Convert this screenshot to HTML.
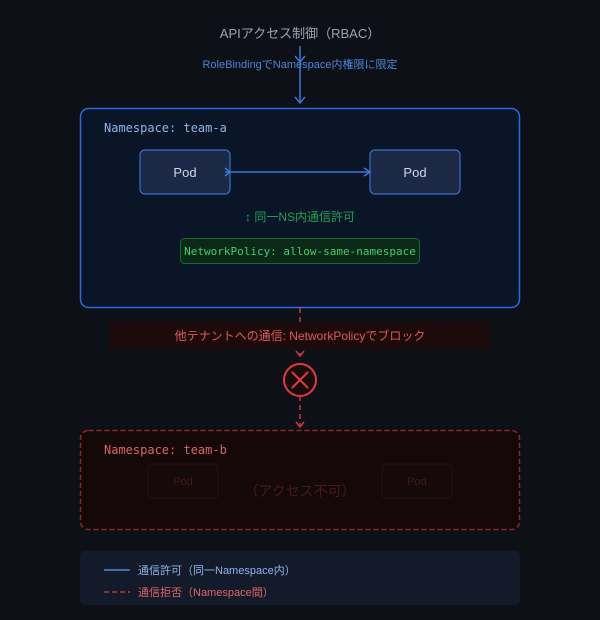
<!DOCTYPE html>
<html><head><meta charset="utf-8"><style>
html,body{margin:0;padding:0;background:#0d1017;}
svg{display:block}
.s{font-family:"Liberation Sans","Noto Sans CJK JP",sans-serif}
.m{font-family:"DejaVu Sans Mono","Liberation Mono",monospace}
</style></head><body>
<svg width="600" height="620" viewBox="0 0 600 620" xmlns="http://www.w3.org/2000/svg">
<rect width="600" height="620" fill="#0d1017"/>
<text x="300" y="38" text-anchor="middle" class="s" font-size="13" fill="#9aa3b0">APIアクセス制御（RBAC）</text>
<line x1="300" y1="46" x2="300" y2="103" stroke="#3a78d8" stroke-width="1.5"/>
<polyline points="295,97 300,103 305,97" fill="none" stroke="#3a78d8" stroke-width="1.5"/>
<polyline points="295,56 300,62 305,56" fill="none" stroke="#3a78d8" stroke-width="1.5"/>
<text x="300" y="68" text-anchor="middle" class="s" font-size="11" fill="#4a86d8">RoleBindingでNamespace内権限に限定</text>

<rect x="80.5" y="108.5" width="439" height="199" rx="8" fill="#0b1528" stroke="#2f6ad8" stroke-width="1.5"/>
<text x="104" y="132" class="m" font-size="12" fill="#8fb4e8">Namespace: team-a</text>
<rect x="140" y="150" width="90" height="44" rx="5" fill="#1b2846" stroke="#3a6ec8" stroke-width="1.2"/>
<rect x="370" y="150" width="90" height="44" rx="5" fill="#1b2846" stroke="#3a6ec8" stroke-width="1.2"/>
<text x="185" y="177" text-anchor="middle" class="s" font-size="13" fill="#cfd8e8">Pod</text>
<text x="415" y="177" text-anchor="middle" class="s" font-size="13" fill="#cfd8e8">Pod</text>
<line x1="225" y1="172" x2="370" y2="172" stroke="#3a78d8" stroke-width="1.5"/>
<polyline points="364,168 370,172 364,176" fill="none" stroke="#3a78d8" stroke-width="1.5"/>
<polyline points="225,168 230,172 225,176" fill="none" stroke="#3a78d8" stroke-width="1.5"/>
<text x="300" y="221" text-anchor="middle" class="s" font-size="12" fill="#22a050">↕ 同一NS内通信許可</text>
<rect x="180.5" y="238.5" width="239" height="25" rx="4" fill="#0c2818" stroke="#166b30"/>
<text x="300" y="255" text-anchor="middle" class="m" font-size="11" fill="#3ecf6a">NetworkPolicy: allow-same-namespace</text>

<line x1="300" y1="308" x2="300" y2="356" stroke="#c83838" stroke-width="1.5" stroke-dasharray="5,4"/>
<rect x="110" y="322" width="380" height="27" rx="3" fill="#1d0a0b"/>
<text x="300" y="340" text-anchor="middle" class="s" font-size="12" fill="#e05a5a">他テナントへの通信: NetworkPolicyでブロック</text>
<polyline points="296,351 300,356 304,351" fill="none" stroke="#c83838" stroke-width="1.5"/>
<circle cx="300" cy="380" r="16" fill="#1a0c0e" stroke="#e03c3c" stroke-width="2"/>
<line x1="292" y1="372" x2="308" y2="388" stroke="#e03c3c" stroke-width="2"/>
<line x1="308" y1="372" x2="292" y2="388" stroke="#e03c3c" stroke-width="2"/>
<line x1="300" y1="396" x2="300" y2="427" stroke="#c83838" stroke-width="1.5" stroke-dasharray="5,4"/>
<polyline points="296,422 300,427 304,422" fill="none" stroke="#c83838" stroke-width="1.5"/>

<rect x="80.5" y="430.5" width="439" height="99" rx="8" fill="#140808" stroke="#8a2828" stroke-width="1.5" stroke-dasharray="5,3"/>
<text x="104" y="454" class="m" font-size="12" fill="#e06464">Namespace: team-b</text>
<rect x="148" y="464" width="70" height="34" rx="4" fill="#160909" stroke="#2c1010"/>
<rect x="382" y="464" width="70" height="34" rx="4" fill="#160909" stroke="#2c1010"/>
<text x="183" y="485" text-anchor="middle" class="s" font-size="11" fill="#461818">Pod</text>
<text x="417" y="485" text-anchor="middle" class="s" font-size="11" fill="#461818">Pod</text>
<text x="300" y="496" text-anchor="middle" class="s" font-size="14" fill="#4a1a1a">（アクセス不可）</text>

<rect x="80" y="551" width="440" height="54" rx="5" fill="#131b2b"/>
<line x1="104" y1="570" x2="130" y2="570" stroke="#4a8ad8" stroke-width="1.5"/>
<text x="138" y="574" class="s" font-size="11" fill="#8fb4e8">通信許可（同一Namespace内）</text>
<line x1="104" y1="592" x2="130" y2="592" stroke="#c83838" stroke-width="1.5" stroke-dasharray="5,3"/>
<text x="138" y="596" class="s" font-size="11" fill="#e06464">通信拒否（Namespace間）</text>
</svg>
</body></html>
